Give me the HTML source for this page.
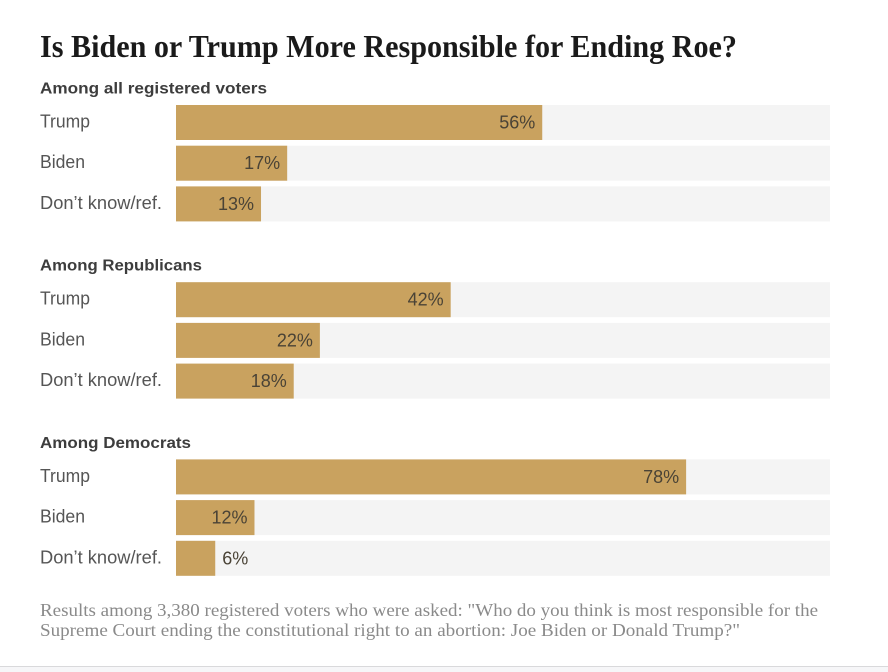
<!DOCTYPE html>
<html lang="en">
<head>
<meta charset="utf-8">
<title>Is Biden or Trump More Responsible for Ending Roe?</title>
<style>
html,body{margin:0;padding:0;background:#fff;}
body{width:888px;height:672px;overflow:hidden;position:relative;}
svg{position:absolute;left:0;top:0;display:block;}
.sans{font-family:"Liberation Sans",sans-serif;}
.serif{font-family:"Liberation Serif",serif;}
</style>
</head>
<body>
<svg id="chart" width="888" height="672" viewBox="0 0 888 672" xmlns="http://www.w3.org/2000/svg">
  <rect x="0" y="667" width="888" height="5" fill="#f6f6f8"/>
  <rect x="0" y="666" width="888" height="1" fill="#d9d9db"/>
  <text class="serif" x="40" y="57" font-size="32" font-weight="700" fill="#1a1a1a" textLength="697" lengthAdjust="spacingAndGlyphs">Is Biden or Trump More Responsible for Ending Roe?</text>
  <g id="groups"></g>
  <text class="serif" x="40" y="616" font-size="17.5" fill="#8a8a8a" textLength="778" lengthAdjust="spacingAndGlyphs">Results among 3,380 registered voters who were asked: "Who do you think is most responsible for the</text>
  <text class="serif" x="40" y="636" font-size="17.5" fill="#8a8a8a" textLength="700" lengthAdjust="spacingAndGlyphs">Supreme Court ending the constitutional right to an abortion: Joe Biden or Donald Trump?"</text>
</svg>
<script>
const groupTitles = ["Among all registered voters", "Among Republicans", "Among Democrats"];
const categories = ["Trump", "Biden", "Don\u2019t know/ref."];
const allVoters = [56, 17, 13];
const republicans = [42, 22, 18];
const democrats = [78, 12, 6];
const seriesValues = [allVoters, republicans, democrats];

const NS = "http://www.w3.org/2000/svg";
const root = document.getElementById("groups");
const plotLeft = 176, plotRight = 830, domainMax = 100;
const firstRowTop = 105, rowStep = 40.7, rowHeight = 35, groupStep = 177.2;
const titleWidths = [227, 162, 151];
const labelWidths = [50, 45, 122];

function xScale(v) { return (plotRight - plotLeft) * v / domainMax; }
function rowY(g, r) { return firstRowTop + g * groupStep + r * rowStep; }

function make(tag, attrs, text) {
  const el = document.createElementNS(NS, tag);
  for (const k in attrs) el.setAttribute(k, attrs[k]);
  if (text !== undefined) el.textContent = text;
  return el;
}

seriesValues.forEach(function (vals, g) {
  const title = make("text", {
    "class": "sans", x: 40, y: rowY(g, 0) - 11.5, "font-size": 16, "font-weight": 700,
    fill: "#3d3d3d", textLength: titleWidths[g], lengthAdjust: "spacingAndGlyphs"
  }, groupTitles[g]);
  
  
  root.appendChild(title);

  vals.forEach(function (v, r) {
    const y = rowY(g, r);
    const label = make("text", {
      "class": "sans", x: 40, y: y + 22.5, "font-size": 18, fill: "#555555",
      textLength: labelWidths[r], lengthAdjust: "spacingAndGlyphs"
    }, categories[r]);
    
    
    root.appendChild(label);

    const track = make("rect", {
      x: plotLeft, y: y, width: plotRight - plotLeft, height: rowHeight, fill: "#f4f4f4"
    });
    
    
    root.appendChild(track);

    const w = xScale(v);
    const bar = make("rect", {
      x: plotLeft, y: y, width: w, height: rowHeight, fill: "#c9a25f"
    });
    
    
    root.appendChild(bar);

    const inside = v >= 10;
    const value = make("text", {
      "class": "sans",
      x: inside ? plotLeft + w - 7 : plotLeft + w + 7,
      y: y + 23.5,
      "font-size": 18,
      fill: "#4a4336",
      "text-anchor": inside ? "end" : "start"
    }, v + "%");
    
    
    root.appendChild(value);
  });
});
</script>
</body>
</html>
